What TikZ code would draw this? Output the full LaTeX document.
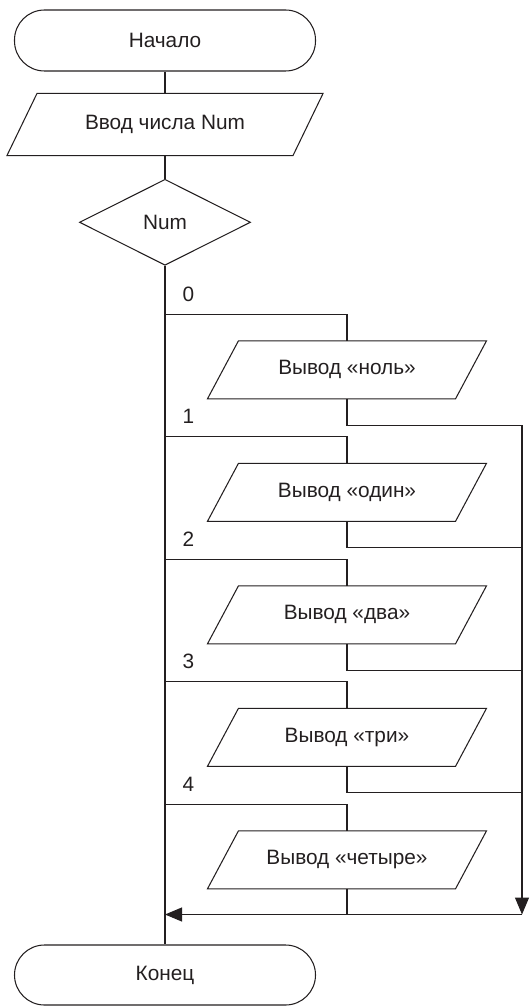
\documentclass[tikz,border=0pt]{standalone}
\usepackage{fontspec}
\setmainfont{Liberation Sans}
\usetikzlibrary{shapes.geometric,arrows.meta}
\definecolor{ink}{RGB}{35,31,32}
\begin{document}
\begin{tikzpicture}[x=1pt, y=-1pt, line width=1.05pt, draw=ink, text=ink,
  every node/.style={font=\fontsize{20.8}{25}\selectfont, text=ink},
  term/.style={rectangle, draw, rounded corners=30pt, minimum width=301pt,
    minimum height=61pt, inner sep=0pt},
  iobox/.style={rectangle, minimum width=#1, minimum height=57pt, inner sep=0pt},
  decision/.style={diamond, draw, aspect=1.98, minimum width=171pt,
    minimum height=86pt, inner sep=0pt},
  caselabel/.style={anchor=base west, inner sep=0pt},
  flow/.style={-{Triangle[length=17pt,width=14pt]}}
]
\useasboundingbox (0,0) rectangle (532,1006);

% parallelogram outline around a rectangular node
\newcommand\slantframe[2]{%
  \draw ([xshift=#2]#1.north west) -- ([xshift=#2]#1.north east)
     -- ([xshift=-#2]#1.south east) -- ([xshift=-#2]#1.south west) -- cycle;}

% main column
\node[term] (start) at (165,40.5) {Начало};
\node[iobox=285pt, minimum height=61pt] (inp) at (165,124.5) {Ввод числа Num};
\slantframe{inp}{15pt}
\node[decision] (dec) at (165,222.3) {Num};
\node[term, minimum height=60pt] (end) at (165,975) {Конец};

\draw (start) -- (inp);
\draw (inp) -- (dec);
\draw (dec.south) -- (end.north);

% case branches
\foreach \k/\txt in {0/{Вывод «ноль»}, 1/{Вывод «один»}, 2/{Вывод «два»},
                     3/{Вывод «три»}, 4/{Вывод «четыре»}} {
  \pgfmathsetmacro\yb{314.3+122.5*\k}
  \pgfmathsetmacro\yo{\yb+55.5}
  \coordinate (b\k) at (165,\yb);
  \node[caselabel] (lab\k) at (182,\yb-13) {\k};
  \node[iobox=247pt] (out\k) at (347,\yo) {\txt};
  \slantframe{out\k}{15.5pt}
  \draw (b\k) -| (out\k.north);
}

% returns to the right-hand collector line
\foreach \k in {0,1,2,3} {
  \pgfmathsetmacro\yr{425.3+122.5*\k}
  \coordinate (r\k) at (522,\yr);
  \draw (out\k.south) |- (r\k);
}
\coordinate (rend) at (522,914.5);
\coordinate (join) at (347,914.5);
\coordinate (merge) at (165,914.5);
\draw[flow] (r0) -- (rend);
\draw (out4.south) -- (join);
\draw[flow] (rend) -- (merge);
\end{tikzpicture}
\end{document}
